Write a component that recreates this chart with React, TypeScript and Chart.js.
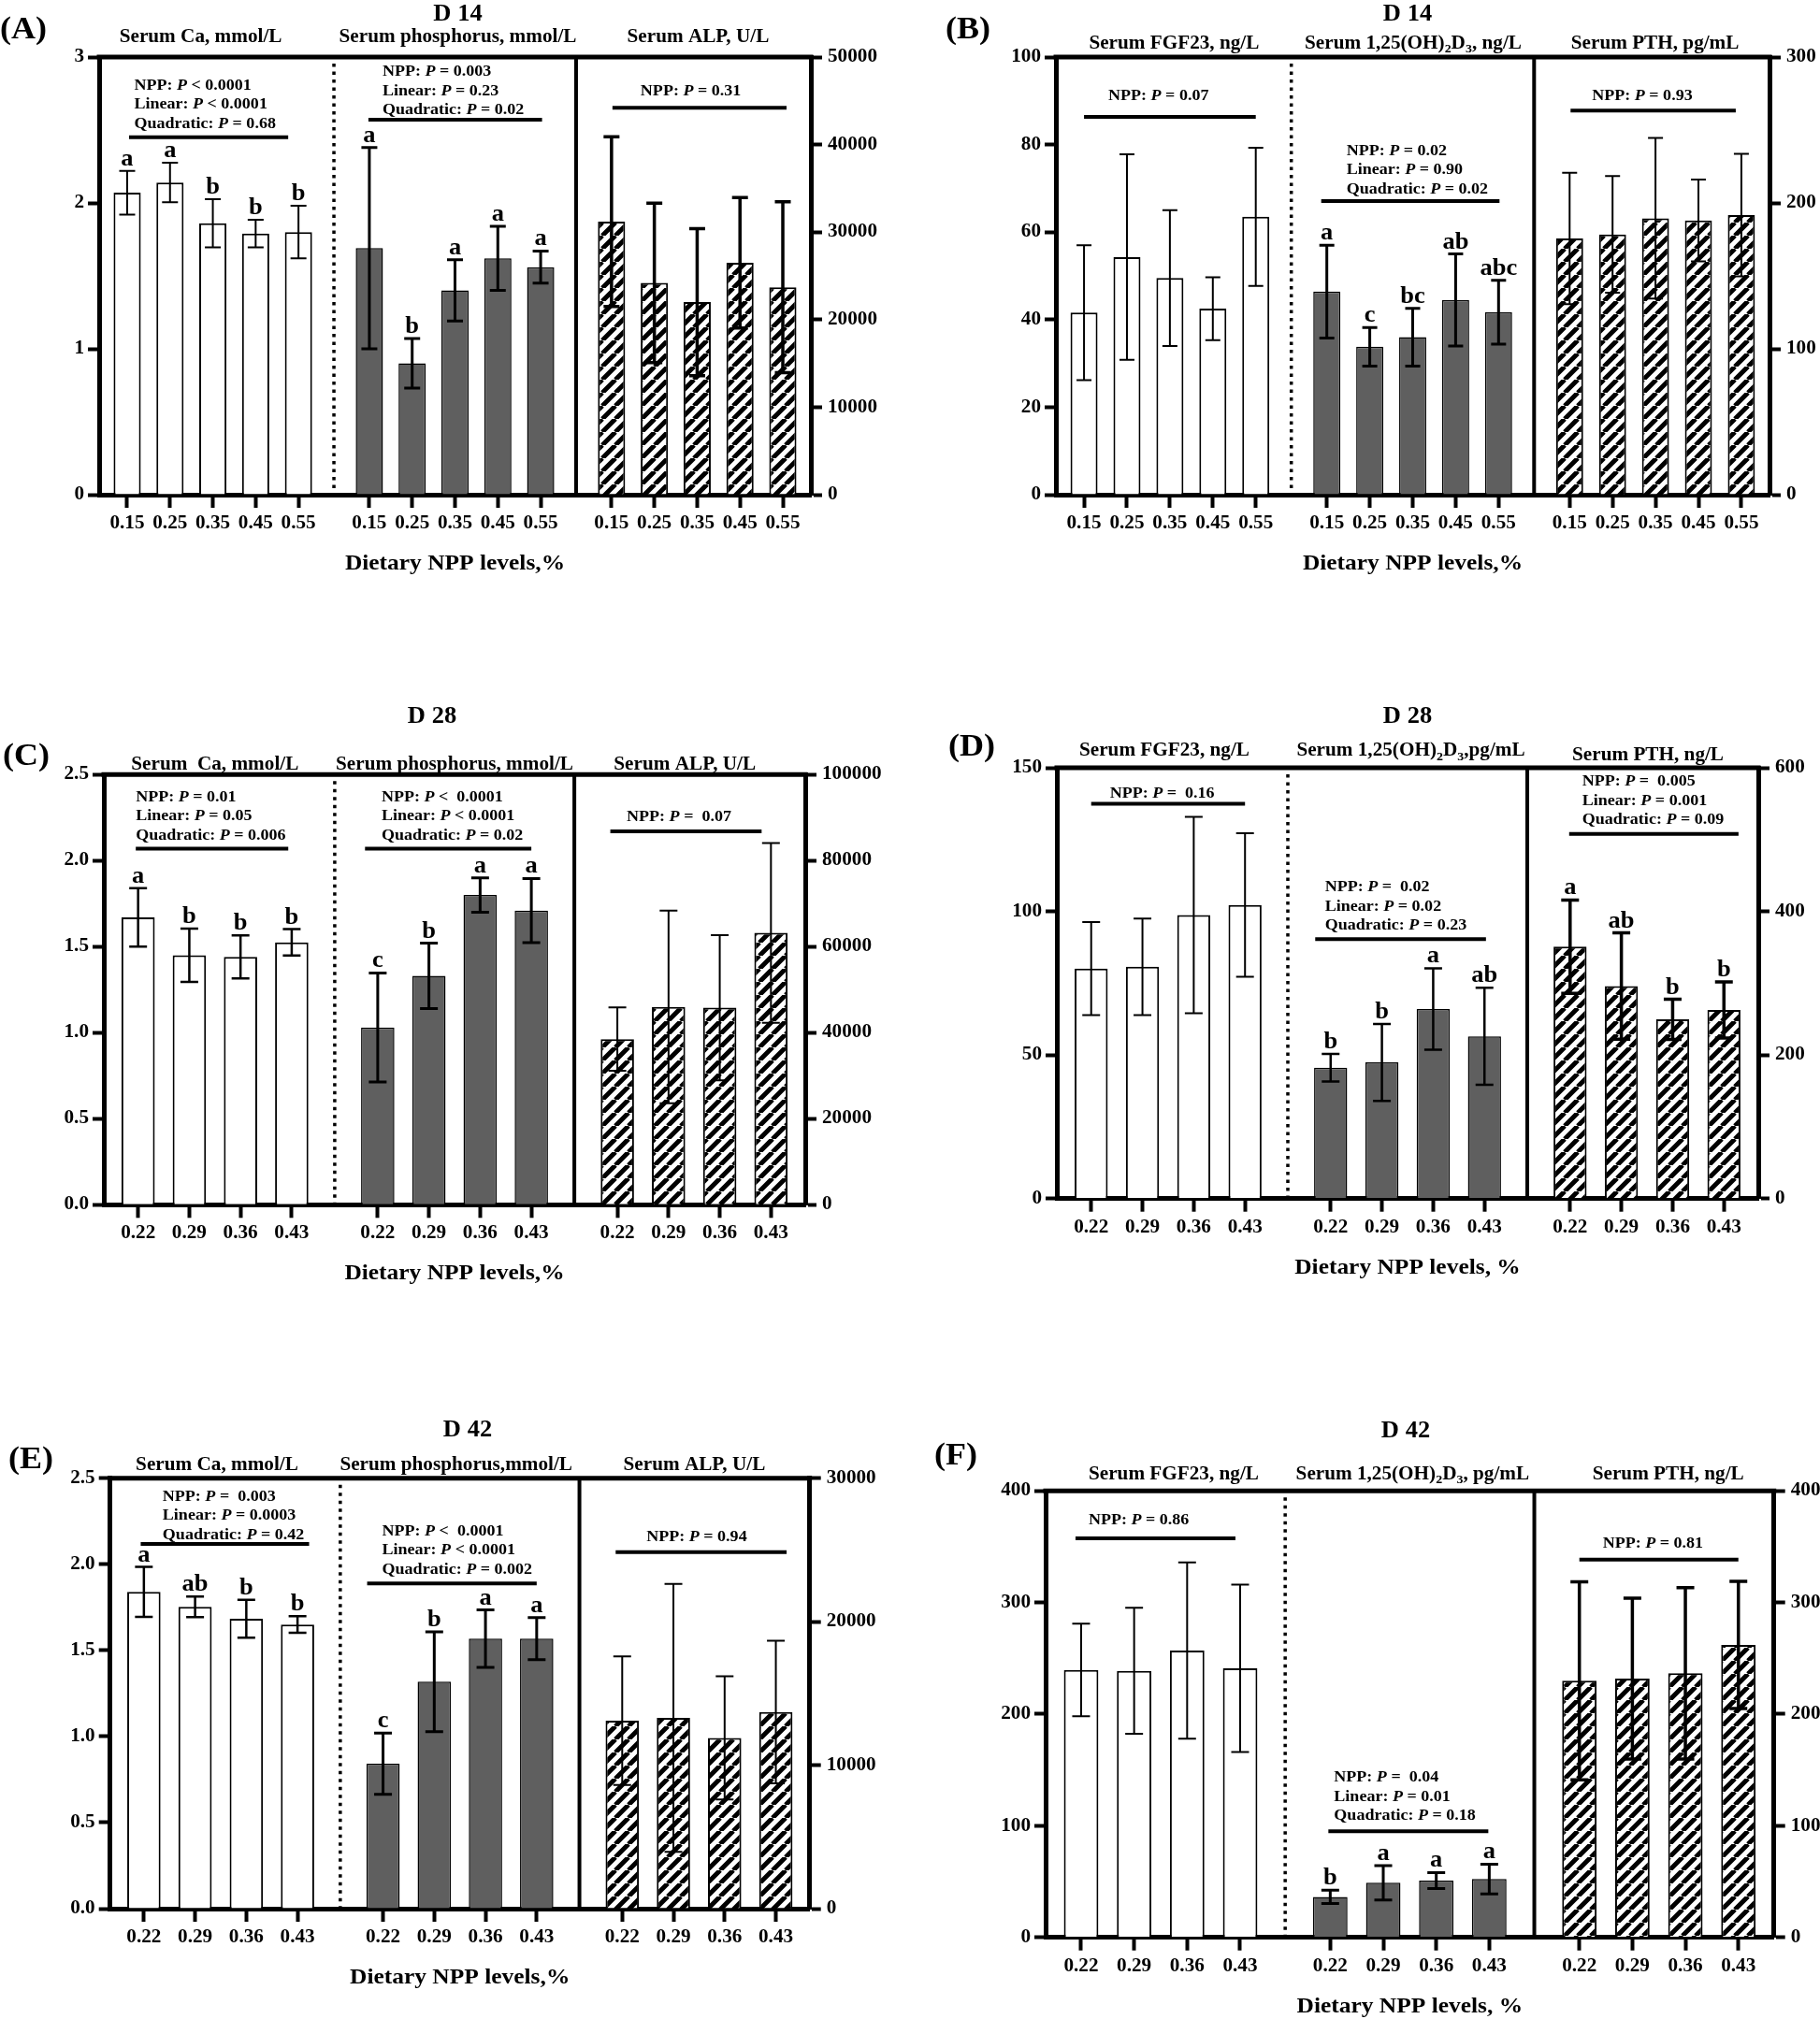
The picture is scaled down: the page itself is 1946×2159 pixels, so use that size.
import React, { useEffect, useRef } from 'react';
import { Chart, registerables } from 'chart.js';
Chart.register(...registerables);

const FONT = '"Liberation Serif", "Times New Roman", Times, serif';
const SX = 1.06;
const FS = { label: 34, day: 25, sub: 20, tick: 20, title: 24, stat: 17, letter: 25 };

// ---------- dietary NPP levels (x categories) ----------
const npp14 = ['0.15', '0.25', '0.35', '0.45', '0.55'];
const npp28 = ['0.22', '0.29', '0.36', '0.43'];

// ---------- (A) D14: Ca, P, ALP ----------
const aCaMean = [2.07, 2.14, 1.86, 1.79, 1.8];
const aCaSd = [0.15, 0.135, 0.165, 0.095, 0.18];
const aCaLetters = ['a', 'a', 'b', 'b', 'b'];
const aCaStats = ['NPP: P < 0.0001', 'Linear: P < 0.0001', 'Quadratic: P = 0.68'];
const aPMean = [1.69, 0.9, 1.4, 1.62, 1.56];
const aPSd = [0.69, 0.17, 0.21, 0.22, 0.11];
const aPLetters = ['a', 'b', 'a', 'a', 'a'];
const aPStats = ['NPP: P = 0.003', 'Linear: P = 0.23', 'Quadratic: P = 0.02'];
const aAlpMean = [31200, 24200, 22000, 26500, 23700];
const aAlpSd = [9700, 9100, 8400, 7450, 9760];
const aAlpStats = ['NPP: P = 0.31'];

// ---------- (B) D14: FGF23, 1,25(OH)2D3, PTH ----------
const bFgfMean = [41.6, 54.3, 49.5, 42.5, 63.5];
const bFgfSd = [15.4, 23.5, 15.5, 7.2, 15.8];
const bFgfStats = ['NPP: P = 0.07'];
const bVdMean = [46.4, 33.8, 36.0, 44.5, 41.7];
const bVdSd = [10.6, 4.4, 6.6, 10.5, 7.3];
const bVdLetters = ['a', 'c', 'bc', 'ab', 'abc'];
const bVdStats = ['NPP: P = 0.02', 'Linear: P = 0.90', 'Quadratic: P = 0.02'];
const bPthMean = [175.6, 178.4, 189.5, 188, 191.7];
const bPthSd = [45, 40, 55, 28, 42];
const bPthStats = ['NPP: P = 0.93'];

// ---------- (C) D28: Ca, P, ALP ----------
const cCaMean = [1.67, 1.45, 1.44, 1.525];
const cCaSd = [0.17, 0.155, 0.125, 0.077];
const cCaLetters = ['a', 'b', 'b', 'b'];
const cCaStats = ['NPP: P = 0.01', 'Linear: P = 0.05', 'Quadratic: P = 0.006'];
const cPMean = [1.03, 1.33, 1.8, 1.71];
const cPSd = [0.317, 0.19, 0.1, 0.186];
const cPLetters = ['c', 'b', 'a', 'a'];
const cPStats = ['NPP: P <  0.0001', 'Linear: P < 0.0001', 'Quadratic: P = 0.02'];
const cAlpMean = [38500, 46000, 45800, 63200];
const cAlpSd = [7360, 22400, 16900, 20900];
const cAlpStats = ['NPP: P =  0.07'];

// ---------- (D) D28: FGF23, 1,25(OH)2D3, PTH ----------
const dFgfMean = [80.1, 80.7, 98.7, 102.2];
const dFgfSd = [16.2, 16.8, 34.2, 25];
const dFgfStats = ['NPP: P =  0.16'];
const dVdMean = [45.6, 47.4, 66.0, 56.5];
const dVdSd = [4.8, 13.4, 14.2, 16.9];
const dVdLetters = ['b', 'b', 'a', 'ab'];
const dVdStats = ['NPP: P =  0.02', 'Linear: P = 0.02', 'Quadratic: P = 0.23'];
const dPthMean = [350.8, 296, 249.6, 262.6];
const dPthSd = [65, 74, 28, 39];
const dPthLetters = ['a', 'ab', 'b', 'b'];
const dPthStats = ['NPP: P =  0.005', 'Linear: P = 0.001', 'Quadratic: P = 0.09'];

// ---------- (E) D42: Ca, P, ALP ----------
const eCaMean = [1.84, 1.753, 1.684, 1.65];
const eCaSd = [0.145, 0.06, 0.11, 0.048];
const eCaLetters = ['a', 'ab', 'b', 'b'];
const eCaStats = ['NPP: P =  0.003', 'Linear: P = 0.0003', 'Quadratic: P = 0.42'];
const ePMean = [0.842, 1.318, 1.568, 1.568];
const ePSd = [0.178, 0.29, 0.167, 0.122];
const ePLetters = ['c', 'b', 'a', 'a'];
const ePStats = ['NPP: P <  0.0001', 'Linear: P < 0.0001', 'Quadratic: P = 0.002'];
const eAlpMean = [13100, 13300, 11900, 13700];
const eAlpSd = [4480, 9340, 4290, 4970];
const eAlpStats = ['NPP: P = 0.94'];

// ---------- (F) D42: FGF23, 1,25(OH)2D3, PTH ----------
const fFgfMean = [239.6, 238.8, 257, 241];
const fFgfSd = [41.5, 56.5, 79, 75];
const fFgfStats = ['NPP: P = 0.86'];
const fVdMean = [36.3, 48.9, 50.9, 52.3];
const fVdSd = [6, 15.4, 7.1, 13.3];
const fVdLetters = ['b', 'a', 'a', 'a'];
const fVdStats = ['NPP: P =  0.04', 'Linear: P = 0.01', 'Quadratic: P = 0.18'];
const fPthMean = [229.9, 231.8, 236.6, 262];
const fPthSd = [88.7, 72, 76.8, 57];
const fPthStats = ['NPP: P = 0.81'];

// ---------- panels ----------
const panels = [
  {
    key: 'A', label: '(A)', day: 'D 14', levels: npp14, xTitle: 'Dietary NPP levels,%',
    yMax: 3, yStep: 1, yDec: 0, y2Max: 50000, y2Step: 10000,
    groups: [
      { title: 'Serum Ca, mmol/L', mean: aCaMean, sd: aCaSd, letters: aCaLetters, stats: aCaStats, axis: 'y', fill: 'white', errW: 2 },
      { title: 'Serum phosphorus, mmol/L', mean: aPMean, sd: aPSd, letters: aPLetters, stats: aPStats, axis: 'y', fill: 'gray', errW: 3 },
      { title: 'Serum ALP, U/L', mean: aAlpMean, sd: aAlpSd, letters: null, stats: aAlpStats, axis: 'y2', fill: 'hatch', errW: 3.5 },
    ],
    layout: {
      ox: 0, oy: 0, w: 973, h: 700, left: 106, right: 867, top: 61, bottom: 529,
      stride: 5.655, margin: 0.655, barPct: 0.635, cap: 8.5,
      dayX: 489.5, dayBase: 22, labX: 0, labBase: 41, subBase: [45, 45, 45], subDx: [-13, 3, 1],
      annot: [
        { tx: 7.5, x0: 2, x1: -11, lineVal: 2.45, gap: 10 },
        { tx: 14, x0: -1, x1: 1.5, lineVal: 2.57, gap: 6 },
        { tx: 31, x0: 1, x1: 4, lineVal: 44200, gap: 13 },
      ],
    },
  },
  {
    key: 'B', label: '(B)', day: 'D 14', levels: npp14, xTitle: 'Dietary NPP levels,%',
    yMax: 100, yStep: 20, yDec: 0, y2Max: 300, y2Step: 100,
    groups: [
      { title: 'Serum FGF23, ng/L', mean: bFgfMean, sd: bFgfSd, letters: null, stats: bFgfStats, axis: 'y', fill: 'white', errW: 2 },
      { title: 'Serum 1,25(OH)₂D₃, ng/L', mean: bVdMean, sd: bVdSd, letters: bVdLetters, stats: bVdStats, axis: 'y', fill: 'gray', errW: 3 },
      { title: 'Serum PTH, pg/mL', mean: bPthMean, sd: bPthSd, letters: null, stats: bPthStats, axis: 'y2', fill: 'hatch', errW: 2 },
    ],
    layout: {
      ox: 973, oy: 0, w: 973, h: 700, left: 1129, right: 1892, top: 61, bottom: 529,
      stride: 5.655, margin: 0.655, barPct: 0.63, cap: 8,
      dayX: 1505, dayBase: 22, labX: 1011, labBase: 41, subBase: [51.6, 51.6, 51.6], subDx: [4.5, 0.5, -0.5],
      annot: [
        { tx: 26, x0: 0, x1: 0, lineVal: 86.3, gap: 18 },
        { tx: 21, x0: -6, x1: 1, lineVal: 67.1, gap: 8 },
        { tx: 24, x0: 1, x1: -6, lineVal: 263.3, gap: 11 },
      ],
    },
  },
  {
    key: 'C', label: '(C)', day: 'D 28', levels: npp28, xTitle: 'Dietary NPP levels,%',
    yMax: 2.5, yStep: 0.5, yDec: 1, y2Max: 100000, y2Step: 20000,
    groups: [
      { title: 'Serum  Ca, mmol/L', mean: cCaMean, sd: cCaSd, letters: cCaLetters, stats: cCaStats, axis: 'y', fill: 'white', errW: 2.5 },
      { title: 'Serum phosphorus, mmol/L', mean: cPMean, sd: cPSd, letters: cPLetters, stats: cPStats, axis: 'y', fill: 'gray', errW: 3 },
      { title: 'Serum ALP, U/L', mean: cAlpMean, sd: cAlpSd, letters: null, stats: cAlpStats, axis: 'y2', fill: 'hatch', errW: 2 },
    ],
    layout: {
      ox: 0, oy: 700, w: 973, h: 740, left: 111, right: 861, top: 828.3, bottom: 1288.3,
      stride: 4.68, margin: 0.67, barPct: 0.65, cap: 9.5,
      dayX: 462, dayBase: 773, labX: 3, labBase: 818, subBase: [823, 823, 823], subDx: [0, 0, -10],
      annot: [
        { tx: -2.5, x0: -2.5, x1: -3.7, lineVal: 2.07, gap: 9.6 },
        { tx: 4, x0: -13.6, x1: 0, lineVal: 2.07, gap: 9.5 },
        { tx: 10, x0: -7.5, x1: -10, lineVal: 86800, gap: 11 },
      ],
    },
  },
  {
    key: 'D', label: '(D)', day: 'D 28', levels: npp28, xTitle: 'Dietary NPP levels, %',
    yMax: 150, yStep: 50, yDec: 0, y2Max: 600, y2Step: 200,
    groups: [
      { title: 'Serum FGF23, ng/L', mean: dFgfMean, sd: dFgfSd, letters: null, stats: dFgfStats, axis: 'y', fill: 'white', errW: 2 },
      { title: 'Serum 1,25(OH)₂D₃,pg/mL', mean: dVdMean, sd: dVdSd, letters: dVdLetters, stats: dVdStats, axis: 'y', fill: 'gray', errW: 2.5 },
      { title: 'Serum PTH, ng/L', mean: dPthMean, sd: dPthSd, letters: dPthLetters, stats: dPthStats, axis: 'y2', fill: 'hatch', errW: 3.5 },
    ],
    layout: {
      ox: 973, oy: 700, w: 973, h: 740, left: 1130, right: 1880, top: 821, bottom: 1281.7,
      stride: 4.67, margin: 0.67, barPct: 0.645, cap: 9.5,
      dayX: 1505, dayBase: 773, labX: 1014, labBase: 808, subBase: [807.6, 808, 812.6], subDx: [-4, 3.5, 1],
      annot: [
        { tx: 20, x0: 0, x1: 0, lineVal: 137.5, gap: 6.6 },
        { tx: -6, x0: -16.5, x1: 1.6, lineVal: 90.3, gap: 10 },
        { tx: 13, x0: -1, x1: 15.6, lineVal: 507.8, gap: 10.7 },
      ],
    },
  },
  {
    key: 'E', label: '(E)', day: 'D 42', levels: npp28, xTitle: 'Dietary NPP levels,%',
    yMax: 2.5, yStep: 0.5, yDec: 1, y2Max: 30000, y2Step: 10000,
    groups: [
      { title: 'Serum Ca, mmol/L', mean: eCaMean, sd: eCaSd, letters: eCaLetters, stats: eCaStats, axis: 'y', fill: 'white', errW: 2.5 },
      { title: 'Serum phosphorus,mmol/L', mean: ePMean, sd: ePSd, letters: ePLetters, stats: ePStats, axis: 'y', fill: 'gray', errW: 3 },
      { title: 'Serum ALP, U/L', mean: eAlpMean, sd: eAlpSd, letters: null, stats: eAlpStats, axis: 'y2', fill: 'hatch', errW: 2 },
    ],
    layout: {
      ox: 0, oy: 1440, w: 973, h: 719, left: 117.7, right: 865.7, top: 1580.7, bottom: 2041,
      stride: 4.67, margin: 0.66, barPct: 0.65, cap: 9.5,
      dayX: 500, dayBase: 1536, labX: 9, labBase: 1570, subBase: [1571.6, 1571.6, 1571.6], subDx: [-4, -4, -5],
      annot: [
        { tx: 20, x0: -3.4, x1: 12.4, lineVal: 2.118, gap: 5.3 },
        { tx: -1, x0: -17, x1: 0, lineVal: 1.889, gap: 10.6 },
        { tx: 26, x0: -7, x1: 11.5, lineVal: 24840, gap: 11.7 },
      ],
    },
  },
  {
    key: 'F', label: '(F)', day: 'D 42', levels: npp28, xTitle: 'Dietary NPP levels, %',
    yMax: 400, yStep: 100, yDec: 0, y2Max: 400, y2Step: 100,
    groups: [
      { title: 'Serum FGF23, ng/L', mean: fFgfMean, sd: fFgfSd, letters: null, stats: fFgfStats, axis: 'y', fill: 'white', errW: 2 },
      { title: 'Serum 1,25(OH)₂D₃, pg/mL', mean: fVdMean, sd: fVdSd, letters: fVdLetters, stats: fVdStats, axis: 'y', fill: 'gray', errW: 3 },
      { title: 'Serum PTH, ng/L', mean: fPthMean, sd: fPthSd, letters: null, stats: fPthStats, axis: 'y2', fill: 'hatch', errW: 3.5 },
    ],
    layout: {
      ox: 973, oy: 1440, w: 973, h: 719, left: 1118, right: 1896.7, top: 1594.3, bottom: 2071.7,
      stride: 4.7, margin: 0.67, barPct: 0.65, cap: 9.5,
      dayX: 1503, dayBase: 1537, labX: 999, labBase: 1566, subBase: [1581.6, 1581.6, 1581.6], subDx: [14, 3, 10],
      annot: [
        { tx: 8, x0: -6, x1: -5, lineVal: 357.5, gap: 15 },
        { tx: 4, x0: -2, x1: -1, lineVal: 95.0, gap: 12.3 },
        { tx: 25, x0: 0, x1: 0, lineVal: 338.5, gap: 12.7 },
      ],
    },
  },
];

// ---------- text helpers ----------
type Seg = { t: string; italic?: boolean; sub?: boolean };
const SUBS: Record<string, string> = { '₂': '2', '₃': '3' };

function setFont(ctx: CanvasRenderingContext2D, size: number, italic: boolean) {
  ctx.font = `${italic ? 'italic ' : ''}bold ${size}px ${FONT}`;
}
function segW(ctx: CanvasRenderingContext2D, s: Seg, size: number) {
  setFont(ctx, s.sub ? size * 0.66 : size, !!s.italic);
  return ctx.measureText(s.t).width;
}
function drawSegs(ctx: CanvasRenderingContext2D, segs: Seg[], x: number, y: number, size: number, align: string, baseline: CanvasTextBaseline = 'alphabetic') {
  let w = 0;
  for (const s of segs) w += segW(ctx, s, size);
  w *= SX;
  const x0 = align === 'center' ? x - w / 2 : align === 'right' ? x - w : x;
  ctx.save();
  ctx.translate(x0, y);
  ctx.scale(SX, 1);
  ctx.textBaseline = baseline;
  ctx.textAlign = 'left';
  ctx.fillStyle = '#000';
  let cx = 0;
  for (const s of segs) {
    const sw = segW(ctx, s, size);
    ctx.fillText(s.t, cx, s.sub ? size * 0.24 : 0);
    cx += sw;
  }
  ctx.restore();
}
const plain = (s: string): Seg[] => [{ t: s }];
function richTitle(s: string): Seg[] {
  const out: Seg[] = [];
  let buf = '';
  for (const ch of s) {
    if (SUBS[ch]) {
      if (buf) out.push({ t: buf });
      buf = '';
      out.push({ t: SUBS[ch], sub: true });
    } else buf += ch;
  }
  if (buf) out.push({ t: buf });
  return out;
}
function richStat(s: string): Seg[] {
  const i = s.indexOf(': P');
  if (i < 0) return [{ t: s }];
  return [{ t: s.slice(0, i + 2) }, { t: 'P', italic: true }, { t: s.slice(i + 3) }];
}

function hatchPattern(): CanvasPattern | string {
  const S = 14;
  const c = document.createElement('canvas');
  c.width = S; c.height = S;
  const g = c.getContext('2d');
  if (!g) return '#fff';
  g.fillStyle = '#fff';
  g.fillRect(0, 0, S, S);
  g.strokeStyle = '#000';
  g.lineWidth = 5;
  g.beginPath();
  for (let k = -1; k <= 1; k++) {
    g.moveTo(k * S, S);
    g.lineTo(k * S + S, 0);
  }
  g.stroke();
  return g.createPattern(c, 'repeat') || '#fff';
}

function decoPlugin(p: any) {
  const L = p.layout;
  return {
    id: 'deco' + p.key,
    afterDraw(chart: any) {
      const ctx: CanvasRenderingContext2D = chart.ctx;
      const ca = chart.chartArea;
      const xs = chart.scales.x, ys = chart.scales.y, ys2 = chart.scales.y2;
      const n = p.levels.length;
      ctx.save();
      ctx.strokeStyle = '#000';
      ctx.fillStyle = '#000';
      // top frame line
      ctx.lineWidth = 5;
      ctx.beginPath();
      ctx.moveTo(ca.left - 2.5, ca.top);
      ctx.lineTo(ca.right + 2.5, ca.top);
      ctx.stroke();
      // dividers
      const mid = (n - 1 + L.stride) / 2;
      const d1 = xs.getPixelForValue(mid);
      const d2 = xs.getPixelForValue(L.stride + mid);
      ctx.lineWidth = 3.5;
      ctx.setLineDash([3.5, 5]);
      ctx.beginPath();
      ctx.moveTo(d1, ca.top + 7);
      ctx.lineTo(d1, ca.bottom);
      ctx.stroke();
      ctx.setLineDash([]);
      ctx.lineWidth = 4;
      ctx.beginPath();
      ctx.moveTo(d2, ca.top);
      ctx.lineTo(d2, ca.bottom);
      ctx.stroke();

      p.groups.forEach((g: any, gi: number) => {
        const sc = g.axis === 'y' ? ys : ys2;
        const meta = chart.getDatasetMeta(gi);
        const bx = (i: number) => meta.data[i].x;
        // error bars + letters
        g.mean.forEach((m: number, i: number) => {
          const x = bx(i);
          const yt = sc.getPixelForValue(m + g.sd[i]);
          const yb = sc.getPixelForValue(Math.max(0, m - g.sd[i]));
          ctx.lineWidth = g.errW;
          ctx.beginPath();
          ctx.moveTo(x, yt); ctx.lineTo(x, yb);
          ctx.moveTo(x - L.cap, yt); ctx.lineTo(x + L.cap, yt);
          ctx.moveTo(x - L.cap, yb); ctx.lineTo(x + L.cap, yb);
          ctx.stroke();
          if (g.letters) drawSegs(ctx, plain(g.letters[i]), x, yt - 6, FS.letter, 'center');
        });
        // statistics annotation
        const a = L.annot[gi];
        const ly = sc.getPixelForValue(a.lineVal);
        ctx.lineWidth = 4;
        ctx.beginPath();
        ctx.moveTo(bx(0) + a.x0, ly);
        ctx.lineTo(bx(n - 1) + a.x1, ly);
        ctx.stroke();
        const k = g.stats.length;
        g.stats.forEach((s: string, j: number) => {
          drawSegs(ctx, richStat(s), bx(0) + a.tx, ly - a.gap - (k - 1 - j) * 20.5, FS.stat, 'left');
        });
        // subtitle
        const cx = (bx(0) + bx(n - 1)) / 2 + L.subDx[gi];
        drawSegs(ctx, richTitle(g.title), cx, L.subBase[gi] - L.oy, FS.sub, 'center');
        // x tick labels
        p.levels.forEach((lv: string, i: number) => {
          drawSegs(ctx, plain(lv), bx(i), ca.bottom + 36, FS.tick, 'center');
        });
      });
      // y tick labels
      ys.ticks.forEach((t: any) => {
        drawSegs(ctx, plain(t.value.toFixed(p.yDec)), ca.left - 16, ys.getPixelForValue(t.value), FS.tick, 'right', 'middle');
      });
      ys2.ticks.forEach((t: any) => {
        drawSegs(ctx, plain(String(Math.round(t.value))), ca.right + 18, ys2.getPixelForValue(t.value), FS.tick, 'left', 'middle');
      });
      // titles
      drawSegs(ctx, plain(p.day), L.dayX - L.ox, L.dayBase - L.oy, FS.day, 'center');
      drawSegs(ctx, plain(p.label), L.labX - L.ox, L.labBase - L.oy, FS.label, 'left');
      drawSegs(ctx, plain(p.xTitle), (ca.left + ca.right) / 2, ca.bottom + 80, FS.title, 'center');
      ctx.restore();
    },
  };
}

function buildConfig(p: any): any {
  const L = p.layout;
  const n = p.levels.length;
  const pos = (g: number, i: number) => g * L.stride + i;
  const tickVals: number[] = [];
  [0, 1, 2].forEach((g) => p.levels.forEach((_: string, i: number) => tickVals.push(pos(g, i))));
  const fills: any = { white: '#ffffff', gray: '#5f5f5f', hatch: hatchPattern() };
  const bw: any = { white: 2, gray: 1.5, hatch: 2 };
  const grid = (len: number) => ({
    display: true, drawOnChartArea: false, drawTicks: true, tickLength: len,
    tickWidth: 4, tickColor: '#000', color: '#000', offset: false,
  });
  const border = { display: true, width: 5, color: '#000' };
  return {
    type: 'bar',
    data: {
      datasets: p.groups.map((g: any, gi: number) => ({
        label: g.title,
        data: g.mean.map((m: number, i: number) => ({ x: pos(gi, i), y: m })),
        xAxisID: 'x',
        yAxisID: g.axis,
        backgroundColor: fills[g.fill],
        borderColor: '#000',
        borderWidth: bw[g.fill],
        grouped: false,
        barPercentage: L.barPct,
        categoryPercentage: 1,
      })),
    },
    options: {
      responsive: false,
      maintainAspectRatio: false,
      animation: false,
      events: [],
      layout: {
        autoPadding: false,
        padding: {
          left: L.left - L.ox - 12,
          right: L.ox + L.w - L.right - 12,
          top: L.top - L.oy,
          bottom: L.oy + L.h - L.bottom - 14,
        },
      },
      plugins: { legend: { display: false }, tooltip: { enabled: false }, title: { display: false } },
      scales: {
        x: {
          type: 'linear', position: 'bottom', offset: false,
          min: -L.margin, max: pos(2, n - 1) + L.margin,
          afterBuildTicks: (s: any) => { s.ticks = tickVals.map((v) => ({ value: v })); },
          ticks: { display: false },
          grid: grid(14), border,
        },
        y: {
          type: 'linear', position: 'left', min: 0, max: p.yMax,
          ticks: { display: false, stepSize: p.yStep },
          grid: grid(12), border,
        },
        y2: {
          type: 'linear', position: 'right', min: 0, max: p.y2Max,
          ticks: { display: false, stepSize: p.y2Step },
          grid: grid(12), border,
        },
      },
    },
    plugins: [decoPlugin(p)],
  };
}

function PanelChart({ panel }: { panel: any }) {
  const ref = useRef<HTMLCanvasElement>(null);
  useEffect(() => {
    if (!ref.current) return;
    const chart = new Chart(ref.current, buildConfig(panel));
    return () => chart.destroy();
  }, [panel]);
  const L = panel.layout;
  return (
    <canvas
      ref={ref}
      width={L.w}
      height={L.h}
      style={{ position: 'absolute', left: L.ox, top: L.oy, width: L.w, height: L.h }}
    />
  );
}

export default function App() {
  return (
    <div style={{ position: 'absolute', left: 0, top: 0, width: 1946, height: 2159, background: '#fff', overflow: 'hidden' }}>
      {panels.map((p) => (
        <PanelChart key={p.key} panel={p} />
      ))}
    </div>
  );
}
